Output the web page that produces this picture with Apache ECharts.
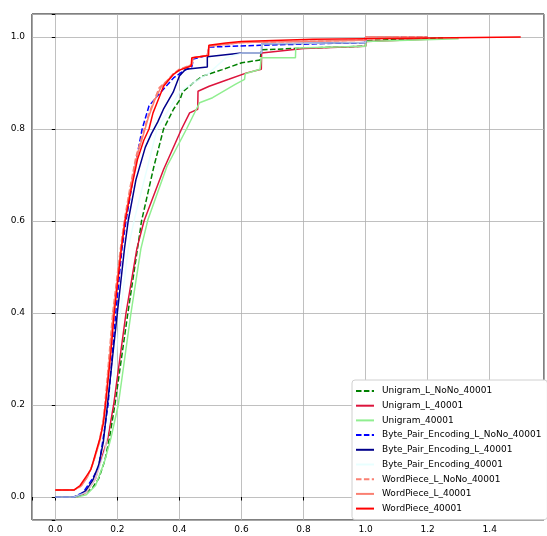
<!DOCTYPE html>
<html>
<head>
<meta charset="utf-8">
<script src="https://cdn.jsdelivr.net/npm/echarts@6/dist/echarts.min.js"></script>
<style>
  html, body { margin: 0; padding: 0; background: #fff; }
  #chart { width: 547px; height: 536px; }
</style>
</head>
<body>
<div id="chart"></div>
<script>
// series names, in legend order
var names = [
    'Unigram_L_NoNo_40001', 'Unigram_L_40001', 'Unigram_40001',
    'Byte_Pair_Encoding_L_NoNo_40001', 'Byte_Pair_Encoding_L_40001', 'Byte_Pair_Encoding_40001',
    'WordPiece_L_NoNo_40001', 'WordPiece_L_40001', 'WordPiece_40001'
];

// [x, cumulative fraction]
var uniLNoNo = [[0, 0], [0.06, 0], [0.09, 0.005], [0.12, 0.02], [0.14, 0.04], [0.16, 0.08], [0.175, 0.13],
    [0.192, 0.2], [0.234, 0.4], [0.265, 0.54], [0.278, 0.6], [0.318, 0.719], [0.349, 0.8], [0.381, 0.843],
    [0.402, 0.864], [0.41, 0.88], [0.444, 0.9], [0.475, 0.915], [0.538, 0.929], [0.601, 0.944], [0.66, 0.95],
    [0.664, 0.972], [0.8, 0.976], [1.0, 0.98], [1.0, 0.992], [1.25, 0.998]];
var uniL = [[0, 0], [0.07, 0], [0.1, 0.01], [0.13, 0.04], [0.15, 0.085], [0.17, 0.13], [0.188, 0.2],
    [0.228, 0.4], [0.263, 0.54], [0.286, 0.6], [0.349, 0.712], [0.407, 0.8], [0.433, 0.835], [0.459, 0.843],
    [0.46, 0.882], [0.496, 0.893], [0.559, 0.908], [0.617, 0.922], [0.664, 0.93], [0.665, 0.965],
    [0.8, 0.975], [1.0, 0.98], [1.0, 0.99], [1.2, 0.995]];
var uni = [[0, 0], [0.07, 0], [0.1, 0.005], [0.13, 0.025], [0.16, 0.08], [0.18, 0.13], [0.203, 0.2],
    [0.244, 0.4], [0.276, 0.54], [0.299, 0.604], [0.36, 0.719], [0.423, 0.8], [0.465, 0.857], [0.507, 0.868],
    [0.58, 0.897], [0.61, 0.908], [0.612, 0.92], [0.66, 0.93], [0.664, 0.955], [0.774, 0.955], [0.775, 0.976],
    [1.0, 0.98], [1.0, 0.99], [1.3, 0.996]];
var bpeLNoNo = [[0, 0], [0.06, 0], [0.09, 0.01], [0.12, 0.04], [0.14, 0.065], [0.155, 0.13], [0.17, 0.2],
    [0.195, 0.4], [0.215, 0.54], [0.228, 0.6], [0.26, 0.73], [0.28, 0.8], [0.302, 0.85], [0.328, 0.871],
    [0.36, 0.895], [0.381, 0.911], [0.41, 0.925], [0.44, 0.935], [0.445, 0.952], [0.49, 0.96], [0.495, 0.978],
    [0.66, 0.982], [0.665, 0.985], [1.0, 0.988], [1.0, 1.0], [1.2, 1.0]];
var bpeL = [[0, 0], [0.06, 0], [0.08, 0.005], [0.1, 0.015], [0.12, 0.035], [0.14, 0.07], [0.155, 0.12],
    [0.168, 0.2], [0.2, 0.4], [0.223, 0.54], [0.235, 0.6], [0.26, 0.69], [0.29, 0.76], [0.31, 0.79],
    [0.33, 0.815], [0.35, 0.845], [0.38, 0.88], [0.4, 0.915], [0.42, 0.93], [0.49, 0.935], [0.49, 0.957],
    [0.6, 0.965], [0.665, 0.965], [0.665, 0.985], [1.0, 0.988], [1.0, 1.0], [1.1, 1.0]];
var bpe = [[0, 0], [0.06, 0], [0.1, 0.01], [0.13, 0.04], [0.16, 0.1], [0.18, 0.2], [0.21, 0.4],
    [0.235, 0.54], [0.255, 0.604], [0.328, 0.8], [0.402, 0.882], [0.496, 0.922], [0.55, 0.955],
    [0.6, 0.965], [0.665, 0.965], [0.665, 0.985], [1.0, 0.988], [1.0, 1.0], [1.1, 1.0]];
var wpLNoNo = [[0, 0.015], [0.06, 0.015], [0.08, 0.022], [0.1, 0.04], [0.12, 0.07], [0.14, 0.115], [0.155, 0.17],
    [0.165, 0.24], [0.185, 0.4], [0.21, 0.54], [0.222, 0.6], [0.24, 0.67], [0.26, 0.74], [0.28, 0.785],
    [0.3, 0.83], [0.32, 0.865], [0.335, 0.89], [0.36, 0.905], [0.38, 0.92], [0.4, 0.93], [0.44, 0.94],
    [0.445, 0.955], [0.49, 0.96], [0.495, 0.98], [0.6, 0.988], [1.0, 0.993], [1.0, 1.0], [1.2, 1.0]];
var wpL = [[0, 0.015], [0.06, 0.015], [0.085, 0.025], [0.105, 0.045], [0.125, 0.08], [0.145, 0.125],
    [0.158, 0.18], [0.168, 0.25], [0.187, 0.4], [0.212, 0.54], [0.224, 0.6], [0.245, 0.68], [0.265, 0.745],
    [0.285, 0.79], [0.3, 0.825], [0.32, 0.862], [0.34, 0.89], [0.36, 0.905], [0.38, 0.918], [0.4, 0.928],
    [0.44, 0.94], [0.445, 0.955], [0.49, 0.96], [0.495, 0.98], [0.6, 0.988], [1.0, 0.993], [1.0, 1.0], [1.2, 1.0]];
var wp = [[0, 0.015], [0.06, 0.015], [0.08, 0.025], [0.1, 0.045], [0.115, 0.06], [0.13, 0.095], [0.145, 0.13],
    [0.155, 0.16], [0.165, 0.22], [0.18, 0.32], [0.19, 0.4], [0.2, 0.46], [0.213, 0.54], [0.225, 0.6],
    [0.245, 0.67], [0.265, 0.734], [0.285, 0.775], [0.302, 0.8], [0.315, 0.835], [0.328, 0.857],
    [0.349, 0.893], [0.381, 0.919], [0.4, 0.928], [0.438, 0.937], [0.44, 0.955], [0.494, 0.96],
    [0.495, 0.982], [0.55, 0.987], [0.6, 0.99], [0.83, 0.995], [1.0, 0.996], [1.0, 1.0], [1.5, 1.0]];

var allData = [uniLNoNo, uniL, uni, bpeLNoNo, bpeL, bpe, wpLNoNo, wpL, wp];
var colors = ['#008000', '#dc143c', '#90ee90', '#0000ff', '#00008b', '#e0ffff', '#fa8072', '#fa8072', '#ff0000'];
var dashed = [true, false, false, true, false, false, true, false, false];

var font = 'DejaVu Sans';

function tickLabel(v) {
    var r = Math.round(v * 10) / 10;
    return Math.abs(v - r) < 1e-6 ? r.toFixed(1) : '';
}

var series = [];
for (let i = 0; i < names.length; i++) {
    series.push({
        name: names[i],
        type: 'line',
        data: allData[i],
        symbol: 'none',
        color: colors[i],
        lineStyle: {
            color: colors[i],
            width: 1.5,
            type: dashed[i] ? [5.5, 2.4] : 'solid',
            opacity: i === 5 ? 0.75 : 1
        }
    });
}

var chart = echarts.init(document.getElementById('chart'), null, { renderer: 'canvas' });

chart.setOption({
    animation: false,
    grid: {
        left: 32, top: 14, width: 524, height: 506,
        show: true, borderColor: '#000', borderWidth: 1, backgroundColor: 'transparent'
    },
    legend: {
        data: names,
        orient: 'vertical',
        left: 352, top: 380,
        padding: [5, 6, 5, 3],
        itemWidth: 18, itemHeight: 12, itemGap: 2.7,
        itemStyle: { opacity: 0 },
        backgroundColor: '#fff',
        borderColor: '#d0d0d0', borderWidth: 1, borderRadius: 3,
        textStyle: { fontFamily: font, fontSize: 9, color: '#000', lineHeight: 12, padding: [0, 0, 0, 3] }
    },
    xAxis: {
        type: 'value',
        min: -0.075, max: 1.575, splitNumber: 8,
        axisLine: { show: false },
        axisTick: { show: true, length: 3.5, lineStyle: { color: '#000' } },
        axisLabel: { formatter: tickLabel, margin: 5, fontFamily: font, fontSize: 9, color: '#000' },
        splitLine: { show: true, lineStyle: { color: '#b0b0b0', width: 0.8 } }
    },
    yAxis: {
        type: 'value',
        min: -0.05, max: 1.05, splitNumber: 5,
        axisLine: { show: false },
        axisTick: { show: true, length: 3.5, lineStyle: { color: '#000' } },
        axisLabel: { formatter: tickLabel, margin: 7, fontFamily: font, fontSize: 9, color: '#000' },
        splitLine: { show: true, lineStyle: { color: '#b0b0b0', width: 0.8 } }
    },
    series: series
});
</script>
</body>
</html>
